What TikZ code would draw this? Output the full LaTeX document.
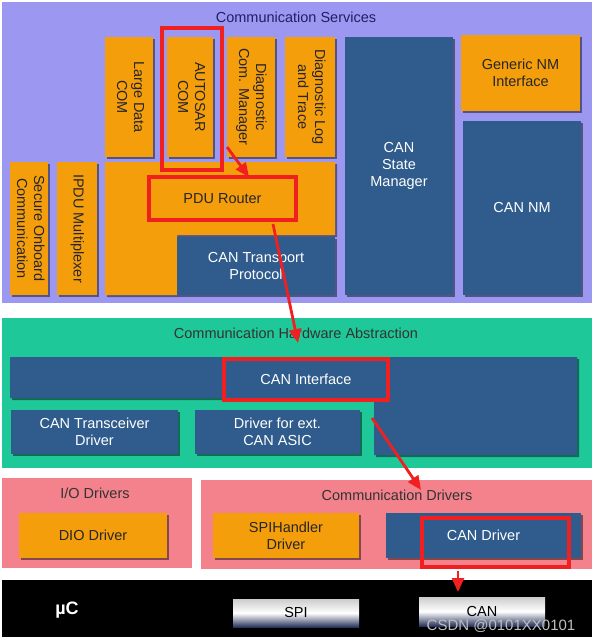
\documentclass[tikz,border=0pt]{standalone}
\usepackage{fontspec}
\setmainfont{Liberation Sans}
\usetikzlibrary{arrows.meta,shadows}
\definecolor{svcviolet}{RGB}{156,152,242}
\definecolor{hwgreen}{RGB}{30,200,152}
\definecolor{drvpink}{RGB}{243,130,140}
\definecolor{arorange}{RGB}{245,158,12}
\definecolor{arblue}{RGB}{47,92,140}
\definecolor{hlred}{RGB}{240,32,32}
\definecolor{navytxt}{RGB}{30,32,100}
\definecolor{metalblue}{RGB}{40,50,90}
\newcommand{\vtext}[1]{\rotatebox{-90}{\begin{tabular}{@{}c@{}}#1\end{tabular}}}

\begin{document}
\begin{tikzpicture}[x=1pt,y=-1pt]
\tikzstyle{every node}+=[inner sep=0pt, align=center, font=\fontsize{14.5}{17}\selectfont]
\tikzstyle{shade}=[drop shadow={shadow xshift=2pt,shadow yshift=-2pt,opacity=.45,fill=black}]
\tikzstyle{obox}=[shade, fill=arorange, text=black!85]
\tikzstyle{bbox}=[shade, fill=arblue, text=white]
\tikzstyle{hl}=[draw=hlred, line width=3.5pt]
\tikzstyle{title}=[text=black!80]
\tikzstyle{metal}=[top color=white!80!black, bottom color=metalblue, middle color=white, text=black]
\tikzstyle{redarrow}=[hlred, line width=2.8pt, -{Triangle[length=14pt,width=12pt]}]
\useasboundingbox (0,0) rectangle (595,643);
\fill [white] (0,0) rectangle (595,643);
% communication services
\fill [svcviolet] (2,2) rectangle (592,303);
\node [title, text=navytxt] (svctitle) at (296,17) {Communication Services};
\node [obox, minimum width=48pt, minimum height=120pt] (ldcom) at (129,97) {\vtext{Large Data\\COM}};
\node [obox, minimum width=46pt, minimum height=120pt] (acom) at (190,97) {\vtext{AUTOSAR\\COM}};
\node [obox, minimum width=48pt, minimum height=120pt] (dcm) at (251,97) {\vtext{Diagnostic\\Com. Manager}};
\node [obox, minimum width=50pt, minimum height=120pt] (dlt) at (310,97) {\vtext{Diagnostic Log\\and Trace}};
\node [bbox, minimum width=108pt, minimum height=258pt] (canstm) at (399,166) {CAN\\State\\Manager};
\node [obox, minimum width=119pt, minimum height=76pt] (gnm) at (520.5,73) {Generic NM\\Interface};
\node [bbox, minimum width=118pt, minimum height=174pt] (cannm) at (522,208) {CAN NM};
\node [obox, minimum width=38pt, minimum height=133pt] (secoc) at (29,228.5) {\vtext{Secure Onboard\\Communication}};
\node [obox, minimum width=40pt, minimum height=133pt] (ipdum) at (77,228.5) {\vtext{IPDU Multiplexer}};
\fill [shade, arorange] (105,162) -- (335,162) -- (335,235) -- (177,235) -- (177,295) -- (105,295) -- cycle;
\node [hl, text=black!85, minimum width=147pt, minimum height=43pt] (pduhl) at (222.5,198.5) {PDU Router};
\node [bbox, minimum width=158pt, minimum height=58pt] (cantp) at (256,266) {CAN Transport\\Protocol};
\node [hl, line width=4.5pt, minimum width=60pt, minimum height=142pt] (acomhl) at (192,99) {};
% communication hardware abstraction
\fill [hwgreen] (2,318) rectangle (592,468);
\node [title] (hwtitle) at (296,333) {Communication Hardware Abstraction};
\fill [shade, arblue] (10,357) -- (577,357) -- (577,455) -- (374,455) -- (374,398) -- (10,398) -- cycle;
\node [hl, text=white, minimum width=164pt, minimum height=41pt] (canifhl) at (306,379.5) {CAN Interface};
\node [bbox, minimum width=167pt, minimum height=44pt] (cantrcv) at (94.5,432) {CAN Transceiver\\Driver};
\node [bbox, minimum width=165pt, minimum height=44pt] (extasic) at (277.5,432) {Driver for ext.\\CAN ASIC};
% drivers
\fill [drvpink] (2,478) rectangle (192,568);
\fill [drvpink] (201,480) rectangle (592,569);
\node [title] (iotitle) at (95,493) {I/O Drivers};
\node [title] (cdtitle) at (397,495) {Communication Drivers};
\node [obox, minimum width=148pt, minimum height=45pt] (dio) at (93,535.5) {DIO Driver};
\node [obox, minimum width=146pt, minimum height=45pt] (spih) at (286,535.5) {SPIHandler\\Driver};
\node [bbox, minimum width=195pt, minimum height=45pt] (candrv) at (483.5,535.5) {CAN Driver};
\node [hl, minimum width=147pt, minimum height=49pt] (candrvhl) at (495.5,542.5) {};
% microcontroller
\fill [black] (2,580) rectangle (592,637);
\node [text=white, font=\fontsize{18}{20}\selectfont\bfseries] (uc) at (67,610) {µC};
\node [metal, minimum width=126pt, minimum height=28pt] (spi) at (296,613) {SPI};
\node [metal, minimum width=126pt, minimum height=29pt] (can) at (482,611.5) {CAN};
\node [text=white!75!black, font=\fontsize{15}{17}\selectfont] (wmark) at (501,626) {CSDN @0101XX0101};
% arrows
\coordinate (a1s) at (227,147);
\coordinate (a1e) at (249,177);
\coordinate (a2s) at (273,224);
\coordinate (a2e) at (298,343);
\coordinate (a3s) at (372,418);
\coordinate (a3e) at (421,490);
\coordinate (a4s) at (458,571);
\coordinate (a4e) at (458,592);
\draw [redarrow] (a1s) -- (a1e);
\draw [redarrow] (a2s) -- (a2e);
\draw [redarrow] (a3s) -- (a3e);
\draw [redarrow] (a4s) -- (a4e);
\end{tikzpicture}
\end{document}
